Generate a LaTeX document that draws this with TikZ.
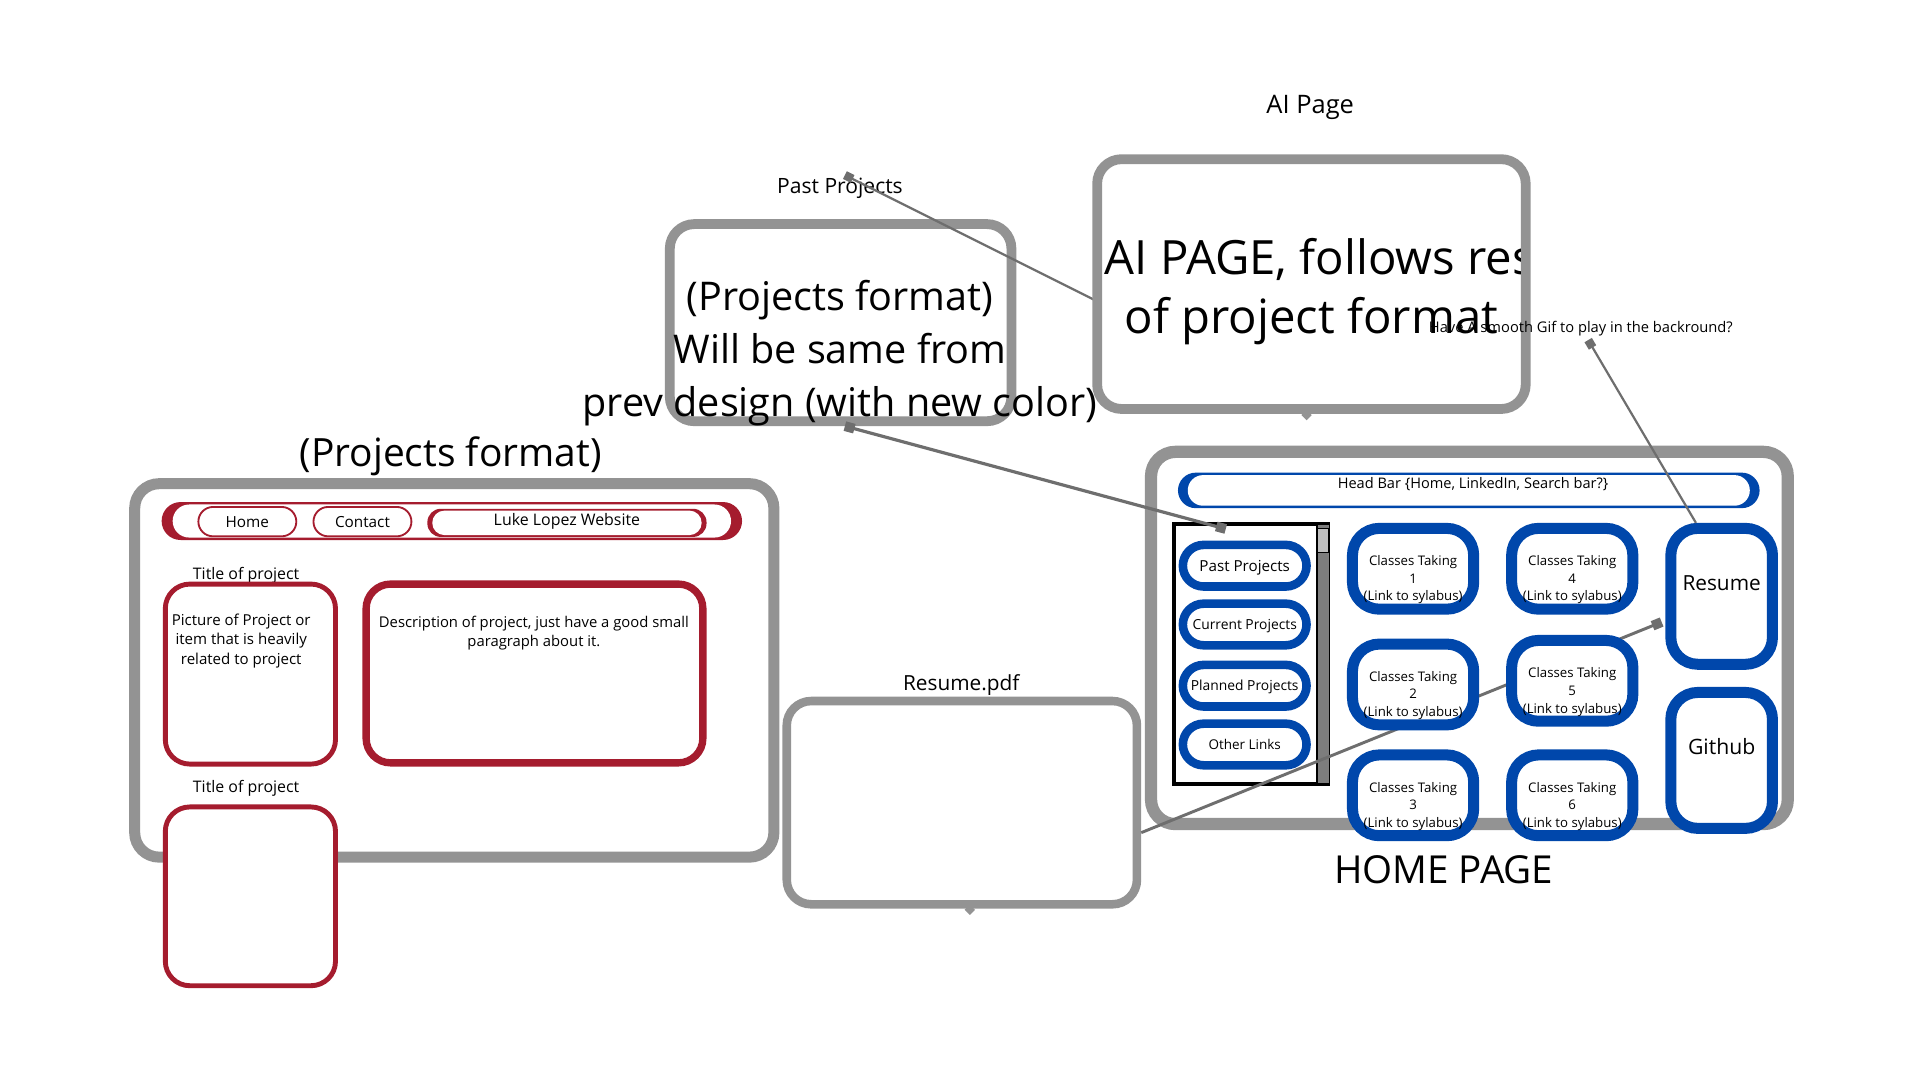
\documentclass[tikz,border=0pt]{standalone}
\usepackage{fontspec}
\setmainfont{Open Sans}
\usetikzlibrary{arrows.meta}

\definecolor{framegray}{HTML}{939393}
\definecolor{pagered}{HTML}{A51C2E}
\definecolor{linkblue}{HTML}{0047AB}
\definecolor{wiregray}{HTML}{6E6E6E}
\newcommand\sz[2]{\fontsize{#1}{#2}\selectfont}

\begin{document}
\begin{tikzpicture}[x=1pt, y=-1pt,
    frame/.style={draw=framegray, line width=9pt, rounded corners=20pt, fill=white, inner sep=0pt},
    redbox/.style={draw=pagered, line width=4pt, rounded corners=20pt, fill=white, inner sep=0pt},
    redpill/.style={draw=pagered, line width=1.5pt, rounded corners=12pt, inner sep=0pt, minimum height=24pt, font={\sz{12.5}{15}}},
    pillfill/.style={inner sep=0pt, rounded corners=#1},
    bluepill/.style={draw=linkblue, line width=7pt, rounded corners=17pt, fill=white, inner sep=0pt,
                     minimum width=101pt, minimum height=34pt, text depth=-1.5pt, font={\sz{11.3}{14}}},
    classtxt/.style={inner sep=0pt, align=center, yshift=-9pt, font={\sz{10.8}{14.5}}},
    classbox/.style={draw=linkblue, line width=9pt, rounded corners=22pt, fill=white, inner sep=0pt,
                     minimum width=99pt, minimum height=66pt, label={[classtxt]center:{#1}}},
    linkbox/.style={draw=linkblue, line width=9pt, rounded corners=22pt, fill=white, inner sep=0pt,
                    minimum width=83pt, minimum height=111pt},
    txt/.style={inner sep=0pt, align=center, yshift=-2.5pt},
    wire/.style={draw=wiregray, line width=1.8pt},
    tabmark/.style={fill=framegray, minimum size=6pt, inner sep=0pt, rotate=45}]

  \useasboundingbox (0,0) rectangle (1568,882);

  % projects format page
  \node[txt, font={\sz{31.8}{36}}] (pftitle) at (368,370) {(Projects format)};
  \node[frame, minimum width=522pt, minimum height=305pt] (pf) at (371,547.5) {};
  \node[pillfill=15.5pt, fill=pagered, minimum width=474pt, minimum height=31pt] (nav) at (369,425.5) {};
  \node[pillfill=13.5pt, fill=white, minimum width=456pt, minimum height=27pt] (navin) at (369,425.5) {};
  \node[redpill, minimum width=80pt] (home) at (202,426) {Home};
  \node[redpill, minimum width=80pt] (contact) at (296,426) {Contact};
  \node[pillfill=11pt, fill=pagered, minimum width=228pt, minimum height=23pt] (site) at (463,427) {};
  \node[pillfill=10pt, fill=white, minimum width=220pt, minimum height=20pt] (sitein) at (463,427) {};
  \node[txt, font={\sz{13}{15}}] (sitetxt) at (463,423) {Luke Lopez Website};

  \node[txt, font={\sz{13}{15}}] (title1) at (201,467) {Title of project};
  \node[redbox, minimum width=139pt, minimum height=147pt] (pic) at (204.5,550.5) {};
  \node[txt, font={\sz{12.3}{16}}] (pictxt) at (197,521) {Picture of Project or\\item that is heavily\\related to project};
  \node[redbox, line width=6pt, minimum width=275pt, minimum height=146pt] (desc) at (436.5,550) {};
  \node[txt, font={\sz{12.1}{15.5}}] (desctxt) at (436,514.5) {Description of project, just have a good small\\paragraph about it.};
  \node[txt, font={\sz{13}{15}}] (title2) at (201,641) {Title of project};
  \node[redbox, minimum width=139pt, minimum height=146pt] (pic2) at (204.5,732) {};

  % past projects
  \node[txt, font={\sz{17.2}{20}}] (pastlbl) at (686,151) {Past Projects};
  \node[frame, line width=8pt, minimum width=279pt, minimum height=161pt] (mid) at (686.5,263.5) {};
  \node[txt, font={\sz{32.3}{43}}] (midtxt) at (686,286) {(Projects format)\\Will be same from\\prev design (with new color)};
  \coordinate (pasttop) at (690,143);
  \draw[wire, -{Square[length=7pt,width=7pt]}] ([yshift=-14pt]896,232) -- (pasttop);

  % ai page
  \node[txt, font={\sz{20.8}{24}}] (ailbl) at (1070,85) {AI Page};
  \node[frame, line width=8pt, minimum width=350pt, minimum height=204pt] (ai) at (1071,232) {};
  \begin{scope}
    \clip (900,134) rectangle (1242,330);
    \node[txt, anchor=west, font={\sz{38.6}{44}}] (aitxt1) at (902,209) {AI PAGE, follows rest};
    \node[txt, font={\sz{38.6}{44}}] (aitxt2) at (1071,260) {of project format};
  \end{scope}
  \node[tabmark] (aitab) at (1067,339) {};
  \node[txt, font={\sz{12}{14}}] (gif) at (1291,266) {Have A smooth Gif to play in the backround?};

  % home page
  \node[frame, line width=10pt, minimum width=520pt, minimum height=304pt] (hp) at (1200,521) {};
  \node[txt, font={\sz{31.5}{38}}] (hptitle) at (1179,708) {HOME PAGE};
  \node[pillfill=14.5pt, fill=linkblue, minimum width=475pt, minimum height=29pt] (head) at (1199.5,400.5) {};
  \node[pillfill=12.5pt, fill=white, minimum width=459pt, minimum height=25pt] (headin) at (1199.5,400.5) {};
  \node[txt, font={\sz{11.9}{14}}] (headtxt) at (1203,393) {Head Bar \{Home, LinkedIn, Search bar?\}};
  \node[draw=black, line width=3pt, minimum width=126pt, minimum height=212pt, inner sep=0pt] (side) at (1022,534) {};
  \node[fill=framegray!85!black, draw=black, line width=1pt, minimum width=10pt, minimum height=212pt, inner sep=0pt] (scroll) at (1080.5,534) {};
  \node[fill=framegray!60!white, draw=black, line width=0.8pt, minimum width=9pt, minimum height=19pt, inner sep=0pt] (thumb) at (1080.5,441.5) {};

  % connectors under the buttons
  \coordinate (sidetop) at (1001,432);
  \draw[wire, line width=2.6pt, {Square[length=8pt,width=8pt]}-{Square[length=8pt,width=8pt]}] ([xshift=3.5pt]mid.south) -- (sidetop);
  \node[frame, line width=7pt, minimum width=286pt, minimum height=166pt] (pdf) at (785.5,655.5) {};
  \node[txt, font={\sz{17}{20}}] (pdflbl) at (785,557) {Resume.pdf};
  \node[tabmark] (pdftab) at (792,743) {};
  \coordinate (resumeleft) at (1357,508);
  \draw[wire, line width=2.4pt, -{Square[length=8pt,width=8pt]}] ([yshift=-24.5pt]pdf.east) -- (resumeleft);

  \node[bluepill, font={\sz{12.4}{14}}] (bpast) at (1016.5,462) {Past Projects};
  \node[bluepill] (bcur) at (1016.5,510) {Current Projects};
  \node[bluepill] (bplan) at (1016.5,560) {Planned Projects};
  \node[bluepill, font={\sz{11}{14}}] (bother) at (1016.5,608) {Other Links};

  \node[classbox={Classes Taking\\1\\(Link to sylabus)}] (c1) at (1154,464.5) {};
  \node[classbox={Classes Taking\\2\\(Link to sylabus)}] (c2) at (1154,559) {};
  \node[classbox={Classes Taking\\3\\(Link to sylabus)}] (c3) at (1154,649.5) {};
  \node[classbox={Classes Taking\\4\\(Link to sylabus)}] (c4) at (1284,464.5) {};
  \node[classbox={Classes Taking\\5\\(Link to sylabus)}] (c5) at (1284,556) {};
  \node[classbox={Classes Taking\\6\\(Link to sylabus)}] (c6) at (1284,649.5) {};

  \node[linkbox] (resume) at (1406,487) {};
  \node[txt, font={\sz{17}{20}}] (resumetxt) at (1406,474) {Resume};
  \node[linkbox] (github) at (1406,621) {};
  \node[txt, font={\sz{17.3}{20}}] (githubtxt) at (1406,607) {Github};

  \draw[wire, -{Square[length=7pt,width=7pt]}] ([xshift=-21pt]resume.north) -- ([xshift=6pt,yshift=-3pt]gif.south);
\end{tikzpicture}
\end{document}
